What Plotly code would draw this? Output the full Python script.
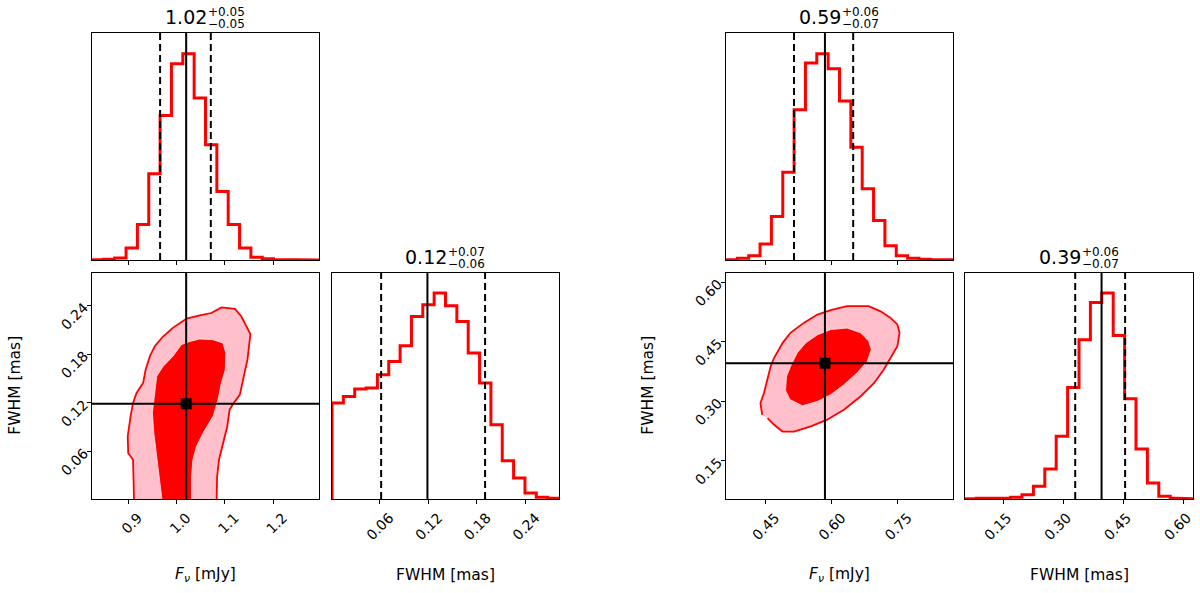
import numpy as np
import plotly.graph_objects as go

# ---- left corner plot ----
fnu1_range = [0.825, 1.295]
fnu1_counts = [0.5, 2, 6, 36, 106, 258, 433, 588, 618, 485, 345, 205, 106, 36, 8, 4, 1, 0.5, 0.3, 0.2]
fnu1_q = [0.966, 1.020, 1.071]
fnu1_title = ["1.02", "+0.05", "\u22120.05"]

fwhm1_range = [0.0015, 0.281]
fwhm1_counts = [288, 308, 330, 333, 373, 413, 460, 548, 583, 618, 580, 533, 438, 348, 223, 115, 63, 18, 5, 2]
fwhm1_q = [0.062, 0.119, 0.190]
fwhm1_title = ["0.12", "+0.07", "\u22120.06"]

# 2D credible regions (outer = pink, inner = red)
c1_outer_x = [0.912, 0.910, 0.900, 0.899, 0.905, 0.910, 0.917, 0.924, 0.931, 0.936, 0.945, 0.955,
              0.972, 0.993, 1.021, 1.048, 1.072, 1.093, 1.121, 1.134, 1.145, 1.153, 1.147, 1.138,
              1.131, 1.121, 1.110, 1.105, 1.096, 1.088, 1.084, 1.083]
c1_outer_y = [0.000, 0.050, 0.058, 0.079, 0.104, 0.120, 0.132, 0.139, 0.145, 0.161, 0.178, 0.190,
              0.202, 0.213, 0.224, 0.228, 0.231, 0.238, 0.236, 0.227, 0.215, 0.205, 0.174, 0.149,
              0.130, 0.122, 0.112, 0.091, 0.071, 0.050, 0.029, 0.000]
c1_inner_x = [0.970, 0.964, 0.959, 0.953, 0.950, 0.955, 0.959, 0.972, 0.993, 1.010, 1.028, 1.048,
              1.076, 1.096, 1.102, 1.101, 1.093, 1.086, 1.076, 1.055, 1.041, 1.034, 1.031, 1.031]
c1_inner_y = [0.000, 0.029, 0.050, 0.083, 0.108, 0.132, 0.153, 0.165, 0.178, 0.192, 0.196, 0.199,
              0.198, 0.194, 0.182, 0.161, 0.145, 0.124, 0.104, 0.083, 0.066, 0.050, 0.029, 0.000]

# ---- right corner plot ----
fnu2_range = [0.361, 0.875]
fnu2_counts = [1, 5, 13, 48, 130, 263, 450, 590, 618, 573, 476, 338, 213, 118, 43, 13, 5, 2, 1, 0.5]
fnu2_q = [0.515, 0.585, 0.649]
fnu2_title = ["0.59", "+0.06", "\u22120.07"]

fwhm2_range = [0.054, 0.625]
fwhm2_counts = [1, 2, 2, 3, 5, 13, 38, 90, 188, 335, 478, 590, 618, 491, 301, 150, 48, 8, 3, 1]
fwhm2_q = [0.330, 0.396, 0.455]
fwhm2_title = ["0.39", "+0.06", "\u22120.07"]

c2_outer_x = [0.443, 0.439, 0.447, 0.453, 0.462, 0.470, 0.489, 0.507, 0.537, 0.568, 0.598, 0.635,
              0.684, 0.711, 0.733, 0.749, 0.754, 0.749, 0.733, 0.718, 0.696, 0.666, 0.628, 0.590,
              0.553, 0.515, 0.489, 0.470, 0.455]
c2_outer_y = [0.266, 0.296, 0.321, 0.346, 0.388, 0.410, 0.447, 0.473, 0.498, 0.519, 0.530, 0.540,
              0.540, 0.527, 0.511, 0.494, 0.473, 0.439, 0.410, 0.380, 0.346, 0.313, 0.279, 0.254,
              0.237, 0.224, 0.224, 0.241, 0.258]
c2_inner_x = [0.496, 0.498, 0.507, 0.522, 0.541, 0.568, 0.598, 0.635, 0.666, 0.684, 0.690, 0.681,
              0.658, 0.628, 0.598, 0.568, 0.534, 0.507]
c2_inner_y = [0.330, 0.363, 0.388, 0.422, 0.447, 0.468, 0.481, 0.485, 0.473, 0.452, 0.431, 0.401,
              0.372, 0.342, 0.317, 0.300, 0.289, 0.304]

fnu1_ticks = [0.9, 1.0, 1.1, 1.2]
fwhm1_ticks = [0.06, 0.12, 0.18, 0.24]
fnu2_ticks = [0.45, 0.60, 0.75]
fwhm2_ticks = [0.15, 0.30, 0.45, 0.60]

W, H = 1200, 593
FONT = "DejaVu Sans"
RED = "#ff0000"
PINK = "#ffc0cb"

# panel boxes in pixels: left, right, top, bottom
boxes = {
    1: (92, 319, 33, 260),      # fnu1 hist
    2: (92, 319, 272.5, 499),   # fnu1 vs fwhm1
    3: (332, 559, 272.5, 499),  # fwhm1 hist
    4: (726, 953, 33, 260),     # fnu2 hist
    5: (726, 953, 272.5, 499),  # fnu2 vs fwhm2
    6: (965, 1193, 272.5, 499), # fwhm2 hist
}


def sfx(i):
    return "" if i == 1 else str(i)


def step_xy(counts, rng):
    edges = np.linspace(rng[0], rng[1], len(counts) + 1)
    x = np.repeat(edges, 2)
    y = np.concatenate([[0], np.repeat(counts, 2), [0]])
    return x, y


fig = go.Figure()
layout = {}
shapes = []
annotations = []

base_axis = dict(
    showline=True, linecolor="black", linewidth=1.2, mirror=True,
    showgrid=False, zeroline=False, ticks="outside", ticklen=4, tickwidth=1,
    tickcolor="black", tickfont=dict(family=FONT, size=14, color="black"),
    tickangle=-45,
)

for i, (l, r, t, b) in boxes.items():
    layout[f"xaxis{sfx(i)}"] = dict(base_axis, domain=[l / W, r / W], anchor=f"y{sfx(i)}")
    layout[f"yaxis{sfx(i)}"] = dict(base_axis, domain=[1 - b / H, 1 - t / H], anchor=f"x{sfx(i)}")


def add_hist(i, counts, rng, q, ticks, labels, title):
    s = sfx(i)
    x, y = step_xy(counts, rng)
    fig.add_trace(go.Scatter(x=x, y=y, mode="lines", xaxis=f"x{s}", yaxis=f"y{s}",
                             line=dict(color=RED, width=3), hoverinfo="skip"))
    layout[f"xaxis{s}"].update(range=rng, tickvals=ticks, showticklabels=labels,
                               ticktext=[f"{v:.2f}" if rng[1] < 0.7 else f"{v:.1f}" for v in ticks],
                               ticklabelshift=10)
    layout[f"yaxis{s}"].update(range=[0, 1.1 * max(counts)], showticklabels=False, ticks="")
    for k, v in enumerate(q):
        shapes.append(dict(type="line", xref=f"x{s}", yref=f"y{s} domain", x0=v, x1=v, y0=0, y1=1,
                           line=dict(color="black", width=2, dash="solid" if k == 1 else "7px,4px")))
    l, r, t, b = boxes[i]
    cx = (l + r) / 2
    main_w = 42.3
    sup_w = 36.8
    left = cx - (main_w + sup_w) / 2
    annotations.append(dict(text=title[0], x=(left + main_w + 1) / W, y=1 - (t - 16) / H, xref="paper",
                            yref="paper", xanchor="right", yanchor="middle", showarrow=False,
                            font=dict(family=FONT, size=19, color="black")))
    annotations.append(dict(text=title[1], x=(left + main_w - 2) / W, y=1 - (t - 21) / H, xref="paper",
                            yref="paper", xanchor="left", yanchor="middle", showarrow=False,
                            font=dict(family=FONT, size=12, color="black")))
    annotations.append(dict(text=title[2], x=(left + main_w - 2) / W, y=1 - (t - 9) / H, xref="paper",
                            yref="paper", xanchor="left", yanchor="middle", showarrow=False,
                            font=dict(family=FONT, size=12, color="black")))


def add_2d(i, ox, oy, ix, iy, xr, yr, xt, yt, mx, my, xfmt, yfmt):
    s = sfx(i)
    fig.add_trace(go.Scatter(x=ox, y=oy, mode="lines", fill="toself", fillcolor=PINK,
                             line=dict(color=RED, width=1.8), xaxis=f"x{s}", yaxis=f"y{s}",
                             hoverinfo="skip"))
    fig.add_trace(go.Scatter(x=ix, y=iy, mode="lines", fill="toself", fillcolor=RED,
                             line=dict(color="#ffe4e8", width=0.8), xaxis=f"x{s}", yaxis=f"y{s}",
                             hoverinfo="skip"))
    layout[f"xaxis{s}"].update(range=xr, tickvals=xt, ticktext=[xfmt.format(v) for v in xt],
                               ticklabelshift=10)
    layout[f"yaxis{s}"].update(range=yr, tickvals=yt, ticktext=[yfmt.format(v) for v in yt])
    shapes.append(dict(type="line", xref=f"x{s}", yref=f"y{s} domain", x0=mx, x1=mx, y0=0, y1=1,
                       line=dict(color="black", width=2)))
    shapes.append(dict(type="line", xref=f"x{s} domain", yref=f"y{s}", x0=0, x1=1, y0=my, y1=my,
                       line=dict(color="black", width=2)))
    fig.add_trace(go.Scatter(x=[mx], y=[my], mode="markers", xaxis=f"x{s}", yaxis=f"y{s}",
                             marker=dict(symbol="square", size=11, color="black"), hoverinfo="skip"))


add_hist(1, fnu1_counts, fnu1_range, fnu1_q, fnu1_ticks, False, fnu1_title)
add_hist(3, fwhm1_counts, fwhm1_range, fwhm1_q, fwhm1_ticks, True, fwhm1_title)
add_hist(4, fnu2_counts, fnu2_range, fnu2_q, fnu2_ticks, False, fnu2_title)
add_hist(6, fwhm2_counts, fwhm2_range, fwhm2_q, fwhm2_ticks, True, fwhm2_title)
add_2d(2, c1_outer_x, c1_outer_y, c1_inner_x, c1_inner_y, fnu1_range, fwhm1_range,
       fnu1_ticks, fwhm1_ticks, fnu1_q[1], fwhm1_q[1], "{:.1f}", "{:.2f}")
add_2d(5, c2_outer_x, c2_outer_y, c2_inner_x, c2_inner_y, fnu2_range, fwhm2_range,
       fnu2_ticks, fwhm2_ticks, fnu2_q[1], fwhm2_q[1], "{:.2f}", "{:.2f}")

# the last panel sits at the right edge: keep its labels inside the page
layout["xaxis6"].update(ticklabelshift=4, ticklabeloverflow="allow")

# axis labels
xlabels = [(2, "<i>F</i><sub><i>\u03bd</i></sub> [mJy]"), (3, "FWHM [mas]"),
           (5, "<i>F</i><sub><i>\u03bd</i></sub> [mJy]"), (6, "FWHM [mas]")]
for i, txt in xlabels:
    l, r, t, b = boxes[i]
    annotations.append(dict(text=txt, x=(l + r) / 2 / W, y=1 - 575 / H, xref="paper", yref="paper",
                            xanchor="center", yanchor="middle", showarrow=False,
                            font=dict(family=FONT, size=15.5, color="black")))
for i, xpos in [(2, 15), (5, 648)]:
    l, r, t, b = boxes[i]
    annotations.append(dict(text="FWHM [mas]", x=xpos / W, y=1 - (t + b) / 2 / H, xref="paper",
                            yref="paper", xanchor="center", yanchor="middle", showarrow=False,
                            textangle=-90, font=dict(family=FONT, size=15.5, color="black")))

fig.update_layout(
    width=W, height=H,
    margin=dict(l=0, r=0, t=0, b=0),
    paper_bgcolor="white", plot_bgcolor="white",
    showlegend=False,
    shapes=shapes,
    annotations=annotations,
    **layout,
)

fig.write_html("out.html", config={"displayModeBar": False},
               post_script="document.body.style.margin = '0px';"
                           "document.documentElement.style.overflow = 'hidden';")
